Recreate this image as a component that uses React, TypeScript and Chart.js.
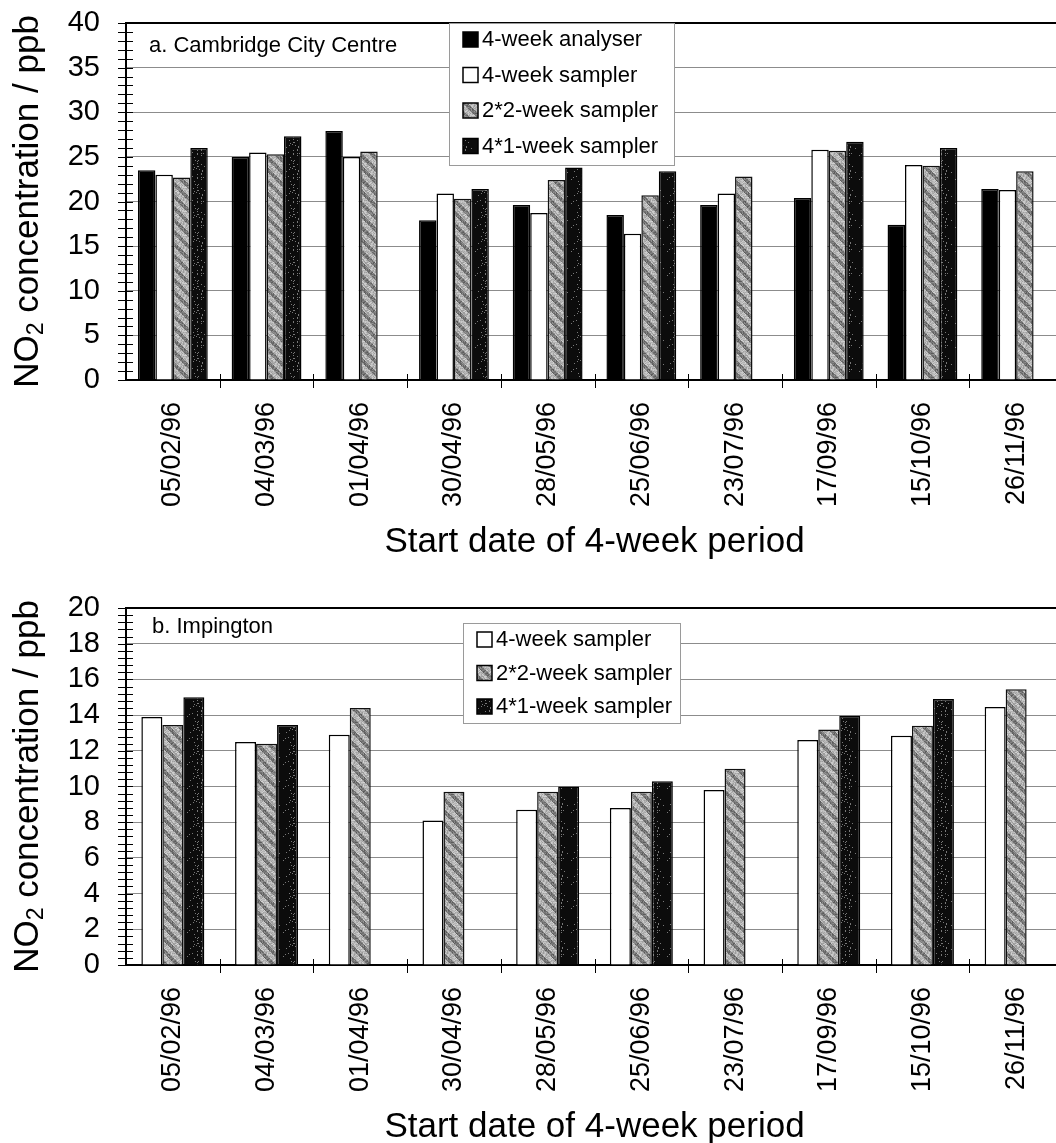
import React, { useEffect, useRef } from 'react';
import { Chart, registerables } from 'chart.js';

Chart.register(...registerables);

const categories = ['05/02/96', '04/03/96', '01/04/96', '30/04/96', '28/05/96', '25/06/96', '23/07/96', '17/09/96', '15/10/96', '26/11/96'];

// a. Cambridge City Centre (ppb)
const cambridgeAnalyser = [23.5, 25.0, 27.9, 17.9, 19.6, 18.5, 19.6, 20.4, 17.4, 21.4];
const cambridgeSampler4 = [23.0, 25.5, 25.0, 20.9, 18.7, 16.4, 20.9, 25.8, 24.1, 21.3];
const cambridgeSampler2x2 = [22.7, 25.3, 25.6, 20.3, 22.4, 20.7, 22.8, 25.7, 24.0, 23.4];
const cambridgeSampler4x1 = [26.0, 27.3, null, 21.4, 23.8, 23.4, null, 26.7, 26.0, null];

// b. Impington (ppb)
const impingtonSampler4 = [13.9, 12.5, 12.9, 8.1, 8.7, 8.8, 9.8, 12.6, 12.85, 14.45];
const impingtonSampler2x2 = [13.45, 12.4, 14.4, 9.7, 9.7, 9.7, 11.0, 13.2, 13.4, 15.45];
const impingtonSampler4x1 = [15.0, 13.45, null, null, 10.0, 10.3, null, 13.97, 14.9, null];

const topTicks = { min: 0, max: 40, step: 5, minor: 1 };
const bottomTicks = { min: 0, max: 20, step: 2, minor: 0.4 };

const FONT = '"Liberation Sans", Arial, Helvetica, sans-serif';

function seeded(seed: number) {
  let s = seed >>> 0;
  return () => {
    s = (Math.imul(s, 1664525) + 1013904223) >>> 0;
    return s / 4294967296;
  };
}

function makePattern(kind: 'stripe' | 'speckle'): CanvasPattern | string {
  const size = 24;
  const c = document.createElement('canvas');
  c.width = size;
  c.height = size;
  const ctx = c.getContext('2d');
  if (!ctx) return kind === 'stripe' ? '#aaa' : '#111';
  const img = ctx.createImageData(size, size);
  const rnd = seeded(kind === 'stripe' ? 7 : 13);
  for (let y = 0; y < size; y++) {
    for (let x = 0; x < size; x++) {
      let v: number;
      if (kind === 'stripe') {
        const d = (((x - y) % 12) + 12) % 12;
        v = d < 5 ? 118 : 182;
        v += (rnd() - 0.5) * 60;
      } else {
        v = rnd() < 0.05 ? 120 : 12;
      }
      v = Math.max(0, Math.min(255, v));
      const i = (y * size + x) * 4;
      img.data[i] = v;
      img.data[i + 1] = v;
      img.data[i + 2] = v;
      img.data[i + 3] = 255;
    }
  }
  ctx.putImageData(img, 0, 0);
  return ctx.createPattern(c, 'repeat') || '#999';
}

const decorPlugin = {
  id: 'decor',
  afterDraw(chart: any, _args: any, opts: any) {
    const { ctx, chartArea } = chart;
    const ys = chart.scales.y;
    const xs = chart.scales.x;
    ctx.save();
    // minor y ticks crossing axis
    ctx.strokeStyle = '#000';
    ctx.lineWidth = 1;
    for (let v = ys.min; v <= ys.max + 1e-9; v += opts.minorStep) {
      const py = Math.round(ys.getPixelForValue(v)) + 0.5;
      ctx.beginPath();
      ctx.moveTo(chartArea.left - 8, py);
      ctx.lineTo(chartArea.left + 7, py);
      ctx.stroke();
    }
    // x ticks at category boundaries
    const n = chart.data.labels.length;
    for (let i = 1; i <= n; i++) {
      const px = Math.round(xs.getPixelForValue(i - 0.5)) + 0.5;
      ctx.beginPath();
      ctx.moveTo(px, chartArea.bottom - 6);
      ctx.lineTo(px, chartArea.bottom + 8);
      ctx.stroke();
    }
    // panel label
    ctx.fillStyle = '#000';
    ctx.font = `22px ${FONT}`;
    ctx.textAlign = 'left';
    ctx.textBaseline = 'alphabetic';
    ctx.fillText(opts.panelLabel, opts.panelX, opts.panelY);

    // legend box
    const lg = opts.legend;
    ctx.fillStyle = '#fff';
    ctx.fillRect(lg.x, lg.y, lg.w, lg.h);
    ctx.strokeStyle = '#9a9a9a';
    ctx.lineWidth = 1;
    ctx.strokeRect(lg.x + 0.5, lg.y + 0.5, lg.w, lg.h);
    ctx.font = `22px ${FONT}`;
    ctx.textBaseline = 'middle';
    chart.data.datasets.forEach((ds: any, i: number) => {
      const cy = lg.row0 + i * lg.gap;
      const sx = lg.x + 14;
      ctx.fillStyle = ds.backgroundColor;
      ctx.fillRect(sx, cy - 8, 15, 15);
      ctx.strokeStyle = '#000';
      ctx.lineWidth = 1.5;
      ctx.strokeRect(sx, cy - 8, 15, 15);
      ctx.fillStyle = '#000';
      ctx.fillText(ds.label, sx + 19, cy);
    });

    // y title with subscript
    const midY = (chartArea.top + chartArea.bottom) / 2;
    ctx.save();
    ctx.translate(opts.yTitleX, midY);
    ctx.rotate(-Math.PI / 2);
    ctx.textBaseline = 'alphabetic';
    ctx.fillStyle = '#000';
    const big = `35px ${FONT}`;
    const small = `23px ${FONT}`;
    ctx.font = big;
    const w1 = ctx.measureText('NO').width;
    const w3 = ctx.measureText(' concentration / ppb').width;
    ctx.font = small;
    const w2 = ctx.measureText('2').width;
    let sx = -(w1 + w2 + w3) / 2;
    ctx.font = big;
    ctx.fillText('NO', sx, 0);
    sx += w1;
    ctx.font = small;
    ctx.fillText('2', sx, 5);
    sx += w2;
    ctx.font = big;
    ctx.fillText(' concentration / ppb', sx, 0);
    ctx.restore();

    // x title
    ctx.font = `35px ${FONT}`;
    ctx.textAlign = 'center';
    ctx.textBaseline = 'alphabetic';
    ctx.fillStyle = '#000';
    ctx.fillText('Start date of 4-week period', (chartArea.left + chartArea.right) / 2, opts.xTitleY);
    ctx.restore();
  },
};

const CANVAS_W = 1070;
const PLOT_LEFT = 126;
const PLOT_RIGHT = 1063;
const PLOT_TOP = 23;
const PLOT_BOTTOM = 380;

function buildConfig(datasets: any[], ticks: any, catPct: number, height: number, decor: any) {
  return {
    type: 'bar',
    data: { labels: categories, datasets },
    plugins: [decorPlugin],
    options: {
      animation: false,
      responsive: false,
      events: [],
      layout: { padding: { top: PLOT_TOP, left: 0, right: CANVAS_W - PLOT_RIGHT, bottom: 0 } },
      datasets: { bar: { categoryPercentage: catPct, barPercentage: 1.0 } },
      plugins: {
        legend: { display: false },
        tooltip: { enabled: false },
        title: { display: false },
        decor,
      },
      scales: {
        x: {
          offset: true,
          grid: { display: false, drawTicks: false },
          border: { display: true, color: '#000', width: 2 },
          ticks: {
            autoSkip: false,
            minRotation: 90,
            maxRotation: 90,
            padding: 22,
            color: '#000',
            font: { family: FONT, size: 27 },
          },
          afterFit: (s: any) => {
            s.height = height - PLOT_BOTTOM;
            s.paddingLeft = 0;
            s.paddingRight = 0;
            s.paddingTop = 0;
            s.paddingBottom = 0;
          },
        },
        y: {
          min: ticks.min,
          max: ticks.max,
          grid: {
            drawTicks: false,
            color: (c: any) => (c.tick && c.tick.value === ticks.max ? '#000' : c.tick && c.tick.value === ticks.min ? 'rgba(0,0,0,0)' : '#8c8c8c'),
            lineWidth: (c: any) => (c.tick && c.tick.value === ticks.max ? 2 : 1),
          },
          border: { display: true, color: '#000', width: 2 },
          ticks: {
            stepSize: ticks.step,
            autoSkip: false,
            padding: 26,
            color: '#000',
            font: { family: FONT, size: 29 },
          },
          afterFit: (s: any) => {
            s.width = PLOT_LEFT;
            s.paddingTop = 0;
            s.paddingBottom = 0;
            s.paddingLeft = 0;
            s.paddingRight = 0;
          },
        },
      },
    },
  };
}

function ChartCanvas({ make, height }: { make: () => any; height: number }) {
  const ref = useRef<HTMLCanvasElement | null>(null);
  useEffect(() => {
    if (!ref.current) return;
    const chart = new Chart(ref.current, make());
    return () => chart.destroy();
  }, []);
  return <canvas ref={ref} width={CANVAS_W} height={height} style={{ display: 'block', width: CANVAS_W, height }} />;
}

export default function App() {
  const stripe = () => makePattern('stripe');
  const speckle = () => makePattern('speckle');

  const makeTop = () =>
    buildConfig(
      [
        { label: '4-week analyser', data: cambridgeAnalyser, backgroundColor: '#000', borderColor: '#000', borderWidth: 1.5 },
        { label: '4-week sampler', data: cambridgeSampler4, backgroundColor: '#fff', borderColor: '#000', borderWidth: 1.5 },
        { label: '2*2-week sampler', data: cambridgeSampler2x2, backgroundColor: stripe(), borderColor: '#111', borderWidth: 1.5 },
        { label: '4*1-week sampler', data: cambridgeSampler4x1, backgroundColor: speckle(), borderColor: '#000', borderWidth: 1.5 },
      ],
      topTicks,
      0.745,
      585,
      {
        minorStep: topTicks.minor,
        panelLabel: 'a. Cambridge City Centre',
        panelX: 149,
        panelY: 52,
        legend: { x: 449, y: 23, w: 225, h: 142, row0: 40, gap: 35.5 },
        yTitleX: 38,
        xTitleY: 552,
      }
    );

  const makeBottom = () =>
    buildConfig(
      [
        { label: '4-week sampler', data: impingtonSampler4, backgroundColor: '#fff', borderColor: '#000', borderWidth: 1.5 },
        { label: '2*2-week sampler', data: impingtonSampler2x2, backgroundColor: stripe(), borderColor: '#111', borderWidth: 1.5 },
        { label: '4*1-week sampler', data: impingtonSampler4x1, backgroundColor: speckle(), borderColor: '#000', borderWidth: 1.5 },
      ],
      bottomTicks,
      0.672,
      558,
      {
        minorStep: bottomTicks.minor,
        panelLabel: 'b. Impington',
        panelX: 152,
        panelY: 48,
        legend: { x: 463, y: 38, w: 217, h: 100, row0: 55, gap: 33.5 },
        yTitleX: 38,
        xTitleY: 552,
      }
    );

  return (
    <div style={{ position: 'absolute', left: 0, top: 0, width: 1056, height: 1143, overflow: 'hidden', background: '#fff' }}>
      <div style={{ position: 'absolute', left: 0, top: 0 }}>
        <ChartCanvas make={makeTop} height={585} />
      </div>
      <div style={{ position: 'absolute', left: 0, top: 585 }}>
        <ChartCanvas make={makeBottom} height={558} />
      </div>
    </div>
  );
}
